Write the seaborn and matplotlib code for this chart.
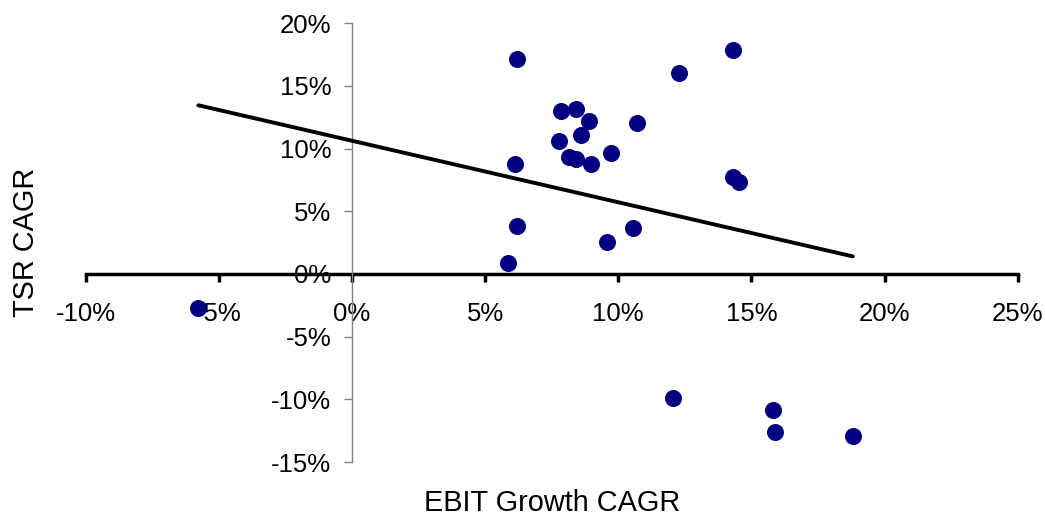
import matplotlib
matplotlib.use("Agg")
import matplotlib.pyplot as plt
import seaborn as sns
import pandas as pd
import numpy as np

# EBIT growth CAGR (%) and TSR CAGR (%) per company
ebit_growth = [6.21, 14.30, 12.29, 7.85, 8.40, 8.90, 10.71, 8.60, 7.79, 8.14,
               8.41, 8.99, 9.72, 6.14, 14.30, 14.55, 6.21, 10.55, 9.59, 5.84,
               -5.77, 12.06, 15.81, 15.89, 18.81]
tsr = [17.18, 17.85, 16.07, 13.01, 13.20, 12.20, 12.04, 11.05, 10.59, 9.33,
       9.14, 8.81, 9.62, 8.81, 7.74, 7.34, 3.81, 3.65, 2.52, 0.91,
       -2.74, -9.89, -10.83, -12.60, -12.93]

x_ticks = [-10, -5, 0, 5, 10, 15, 20, 25]
y_ticks = [-15, -10, -5, 0, 5, 10, 15, 20]
x_label = "EBIT Growth CAGR"
y_label = "TSR CAGR"

df = pd.DataFrame({"ebit": ebit_growth, "tsr": tsr})

sns.set_theme(style="white")
plt.rcParams["font.family"] = ["Liberation Sans", "DejaVu Sans"]
plt.rcParams["text.color"] = "black"
plt.rcParams["axes.labelcolor"] = "black"
plt.rcParams["xtick.labelcolor"] = "black"
plt.rcParams["ytick.labelcolor"] = "black"

fig = plt.figure(figsize=(10.45, 5.2), dpi=100)
ax = fig.add_axes([0.0820, 0.1115, 0.9739 - 0.0820, 0.9552 - 0.1115])

sns.scatterplot(data=df, x="ebit", y="tsr", ax=ax, color="#000080",
                s=150, edgecolor="#000080", linewidth=0, zorder=3, legend=False)
sns.regplot(data=df, x="ebit", y="tsr", ax=ax, scatter=False, ci=None,
            truncate=True, color="black", line_kws={"lw": 2.8, "zorder": 4})

ax.set_xlim(x_ticks[0], x_ticks[-1])
ax.set_ylim(y_ticks[0], y_ticks[-1])
ax.set_xticks(x_ticks)
ax.set_yticks(y_ticks)
ax.set_xticklabels([f"{v}%" for v in x_ticks])
ax.set_yticklabels([f"{v}%" for v in y_ticks])

for s in ["top", "right"]:
    ax.spines[s].set_visible(False)
ax.spines["left"].set_position(("data", 0))
ax.spines["bottom"].set_position(("data", 0))
ax.spines["left"].set_color("#808080")
ax.spines["left"].set_linewidth(1.0)
ax.spines["bottom"].set_color("black")
ax.spines["bottom"].set_linewidth(2.5)
ax.spines["bottom"].set_zorder(2)

ax.tick_params(axis="x", direction="out", length=6, width=2.5, color="black",
               labelsize=18.5, pad=14, bottom=True, labelcolor="black")
ax.tick_params(axis="y", direction="out", length=5.8, width=1.0, color="#808080",
               labelsize=18.5, pad=9, left=True, labelcolor="black")
ax.grid(False)

ax.set_xlabel(x_label, fontsize=20.8, color="black")
ax.set_ylabel(y_label, fontsize=20.8, color="black")
ax.xaxis.set_label_coords(0.5, -0.094)
ax.xaxis.label.set_verticalalignment("center")
ax.yaxis.set_label_coords(-0.064, 0.5)
ax.yaxis.label.set_verticalalignment("center")

fig.savefig("out.png", dpi=100, facecolor="white")
